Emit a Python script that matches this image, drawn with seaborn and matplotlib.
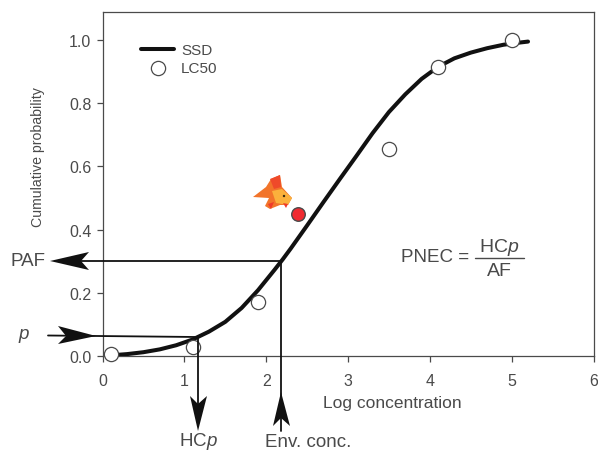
import matplotlib
matplotlib.use("Agg")
import matplotlib.pyplot as plt
import seaborn as sns
from matplotlib.lines import Line2D
from matplotlib.patches import Polygon, Circle
from matplotlib.transforms import IdentityTransform

W, H = 598, 452

# SSD curve
ssd_x = [0.1, 0.3, 0.5, 0.7, 0.9, 1.1, 1.3, 1.5, 1.7, 1.9, 2.1, 2.2, 2.3, 2.5, 2.7, 2.9,
         3.1, 3.3, 3.5, 3.7, 3.9, 4.1, 4.3, 4.5, 4.7, 4.9, 5.1, 5.2]
ssd_y = [0.002, 0.006, 0.012, 0.021, 0.034, 0.052, 0.077, 0.108, 0.152, 0.208, 0.272, 0.305, 0.34,
         0.413, 0.487, 0.56, 0.632, 0.705, 0.772, 0.828, 0.877, 0.915, 0.942, 0.96, 0.974, 0.985,
         0.992, 0.995]

lc50_x = [0.1, 1.1, 1.9, 3.5, 4.1, 5.0]
lc50_y = [0.005, 0.03, 0.17, 0.655, 0.915, 1.0]

red_x = [2.39]
red_y = [0.45]

x_ticks = [0, 1, 2, 3, 4, 5, 6]
y_ticks = [0.0, 0.2, 0.4, 0.6, 0.8, 1.0]

GREY = "#4a4a4a"
INK = "#111111"

sns.set_theme(style="ticks")
plt.rcParams["font.family"] = ["Liberation Sans", "DejaVu Sans"]
plt.rcParams["mathtext.fontset"] = "custom"
plt.rcParams["mathtext.rm"] = "Liberation Sans"
plt.rcParams["mathtext.it"] = "Liberation Sans:italic"

fig = plt.figure(figsize=(W / 100, H / 100), dpi=100, facecolor="white")
ax = fig.add_axes([102.5 / W, 1 - 357 / H, 491 / W, 344 / H])

sns.lineplot(x=ssd_x, y=ssd_y, color=INK, linewidth=2.9, label="SSD", ax=ax, zorder=3,
             solid_joinstyle="round", solid_capstyle="round")
sns.scatterplot(x=lc50_x, y=lc50_y, s=105, color="white", edgecolor=GREY, linewidth=0.9,
                label="LC50", ax=ax, zorder=4, clip_on=False)
sns.scatterplot(x=red_x, y=red_y, s=95, color="#f02a30", edgecolor=GREY, linewidth=1.0,
                ax=ax, zorder=4, legend=False)

ax.set_xlim(0, 6)
ax.set_ylim(0, 344 / 316)
ax.set_xticks(x_ticks)
ax.set_yticks(y_ticks)
ax.set_yticklabels([f"{v:.1f}" for v in y_ticks])
ax.tick_params(colors=GREY, labelsize=11.5, width=0.9, length=4)
ax.tick_params(axis="x", pad=8)
ax.tick_params(axis="y", pad=4)
for s in ax.spines.values():
    s.set_color(GREY)
    s.set_linewidth(0.9)

ax.legend(loc="upper left", bbox_to_anchor=(0.051, 0.95), frameon=False, fontsize=11,
          labelcolor=GREY, handlelength=2.15, labelspacing=0.28, handletextpad=0.45)


def px_y(y):
    return H - y


def label(x, y, s, **kw):
    kw.setdefault("color", GREY)
    kw.setdefault("fontsize", 10)
    kw.setdefault("ha", "center")
    kw.setdefault("va", "center")
    fig.text(x / W, 1 - y / H, s, **kw)


def shape(points, color, z=6):
    pts = [(x, px_y(y)) for x, y in points]
    fig.add_artist(Polygon(pts, closed=True, facecolor=color, edgecolor="none",
                           transform=IdentityTransform(), zorder=z))


def rule(x0, y0, x1, y1, lw=1.3, color=INK):
    fig.add_artist(Line2D([x0, x1], [px_y(y0), px_y(y1)], color=color, linewidth=lw,
                          transform=IdentityTransform(), zorder=6))


# guide lines and arrow heads
rule(60, 262, 281, 262)
rule(48, 336.5, 197, 338)
rule(198, 338, 198, 415)
rule(281, 262, 281, 432)
shape([(50, 262), (89, 253), (81, 262), (89, 271)], INK)
shape([(96, 337), (58, 327), (66, 337), (58, 345)], INK)
shape([(198, 432), (190, 397), (198, 405), (207, 397)], INK)
shape([(281, 393), (273, 427), (281, 419), (290, 427)], INK)

label(38, 157, "Cumulative probability", rotation=90, fontsize=10.2)
label(392, 404, "Log concentration", fontsize=12.5)
label(28, 262, "PAF", fontsize=13.5)
label(24, 335, "p", fontsize=13.5, style="italic")
label(198, 441.5, "HC$p$", fontsize=13.5)
label(308, 443, "Env. conc.", fontsize=13.5)

# PNEC fraction
label(401, 258, "PNEC =", fontsize=13.5, ha="left")
rule(475, 258.5, 524, 258.5, lw=1.0, color=GREY)
label(499, 247, "HC$p$", fontsize=14)
label(499, 271, "AF", fontsize=14)

# goldfish
shape([(253, 198), (266, 188), (271, 180), (280, 176), (282, 188), (292, 199), (288, 206),
       (280, 206), (270, 210), (265, 207), (269, 199)], "#f2742a")
shape([(272, 192), (282, 190), (292, 199), (288, 206), (276, 204)], "#fbb13c")
shape([(270, 180), (280, 176), (281, 188), (274, 190)], "#ef4a2a")
shape([(268, 205), (274, 203), (271, 210)], "#ef3b2a")
shape([(283, 204), (288, 205), (286, 209)], "#ef3b2a")
fig.add_artist(Circle((284, px_y(197)), 1.2, facecolor="#3a2a10", edgecolor="none",
                      transform=IdentityTransform(), zorder=7))

fig.savefig("out.png", dpi=100)
